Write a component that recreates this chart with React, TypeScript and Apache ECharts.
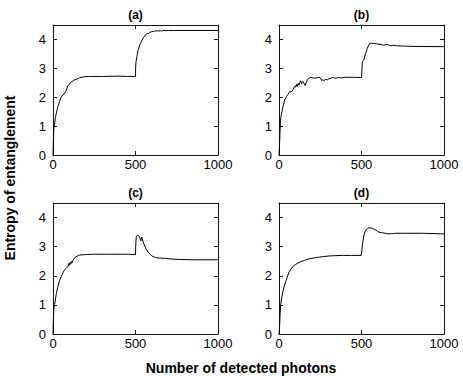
import React, { useEffect, useRef } from "react";
import * as echarts from "echarts";

const panelTitles = ["(a)", "(b)", "(c)", "(d)"];
const xTicks = { min: 0, max: 1000, interval: 500 };
const yTicks = { min: 0, max: 4.5, interval: 1 };
const xName = "Number of detected photons";
const yName = "Entropy of entanglement";

const curveA: number[][] = [
  [0, 0], [2, 0.45], [5, 0.9], [10, 1.1], [15, 1.3], [20, 1.45], [30, 1.68], [40, 1.86], [50, 2.0], [60, 2.08],
  [70, 2.13], [75, 2.2], [80, 2.22], [90, 2.4], [95, 2.43], [100, 2.47], [110, 2.52], [115, 2.56], [120, 2.55],
  [130, 2.6], [140, 2.62], [150, 2.64], [160, 2.67], [170, 2.69], [190, 2.71], [220, 2.72], [300, 2.72],
  [400, 2.73], [450, 2.72], [500, 2.72], [501, 3.05], [503, 3.22], [510, 3.45], [515, 3.62], [520, 3.7],
  [525, 3.8], [530, 3.86], [535, 3.92], [540, 3.98], [545, 4.03], [550, 4.08], [555, 4.1], [560, 4.16],
  [566, 4.18], [575, 4.22], [580, 4.2], [586, 4.25], [595, 4.26], [600, 4.28], [610, 4.27], [616, 4.29],
  [630, 4.3], [640, 4.29], [650, 4.31], [657, 4.28], [665, 4.31], [700, 4.31], [800, 4.31], [1000, 4.31],
];

const curveB: number[][] = [
  [0, 0], [3, 0.3], [6, 0.8], [9, 1.2], [12, 1.33], [18, 1.5], [25, 1.7], [34, 1.9], [45, 2.02], [55, 2.1],
  [65, 2.2], [72, 2.18], [81, 2.22], [90, 2.32], [95, 2.38], [101, 2.35], [106, 2.45], [111, 2.38], [116, 2.48],
  [121, 2.42], [126, 2.5], [131, 2.57], [137, 2.46], [141, 2.52], [145, 2.55], [150, 2.5], [155, 2.44],
  [158, 2.4], [164, 2.5], [172, 2.6], [182, 2.66], [192, 2.69], [205, 2.67], [222, 2.66], [232, 2.68],
  [243, 2.69], [252, 2.66], [258, 2.58], [263, 2.6], [273, 2.58], [283, 2.62], [293, 2.6], [303, 2.64],
  [313, 2.65], [323, 2.69], [333, 2.67], [345, 2.66], [360, 2.68], [380, 2.67], [400, 2.69], [450, 2.69],
  [500, 2.68], [502, 2.9], [505, 3.23], [512, 3.27], [518, 3.35], [521, 3.46], [528, 3.55], [535, 3.69],
  [542, 3.78], [549, 3.86], [560, 3.87], [573, 3.86], [590, 3.85], [603, 3.84], [618, 3.82], [633, 3.8],
  [645, 3.82], [657, 3.83], [667, 3.8], [677, 3.78], [687, 3.79], [697, 3.8], [712, 3.78], [727, 3.78],
  [750, 3.77], [768, 3.77], [800, 3.76], [1000, 3.75],
];

const curveC: number[][] = [
  [0, 0], [2, 0.45], [5, 0.85], [10, 1.01], [15, 1.2], [20, 1.38], [30, 1.64], [40, 1.84], [51, 1.99],
  [60, 2.1], [71, 2.21], [80, 2.26], [91, 2.33], [96, 2.42], [100, 2.36], [104, 2.46], [108, 2.4], [112, 2.5],
  [116, 2.45], [120, 2.52], [131, 2.62], [145, 2.67], [162, 2.71], [180, 2.72], [202, 2.73], [250, 2.74],
  [350, 2.74], [450, 2.74], [500, 2.73], [501, 3.0], [503, 3.2], [505, 3.36], [510, 3.38], [515, 3.4],
  [520, 3.37], [525, 3.32], [530, 3.25], [533, 3.2], [537, 3.33], [540, 3.3], [545, 3.19], [550, 3.1],
  [556, 3.02], [566, 2.9], [576, 2.81], [586, 2.75], [596, 2.7], [606, 2.66], [620, 2.63], [636, 2.61],
  [650, 2.61], [667, 2.6], [680, 2.6], [697, 2.59], [727, 2.57], [768, 2.56], [850, 2.55], [1000, 2.55],
];

const curveD: number[][] = [
  [0, 0], [2, 0.15], [4, 0.32], [7, 0.7], [10, 1.01], [15, 1.2], [24, 1.47], [32, 1.65], [41, 1.81],
  [50, 1.95], [61, 2.13], [71, 2.22], [81, 2.3], [91, 2.35], [101, 2.39], [115, 2.44], [131, 2.48],
  [155, 2.53], [182, 2.58], [210, 2.61], [242, 2.64], [270, 2.66], [303, 2.68], [340, 2.69], [384, 2.7],
  [440, 2.7], [498, 2.7], [500, 2.69], [502, 2.85], [505, 3.05], [509, 3.19], [513, 3.33], [517, 3.44],
  [523, 3.53], [529, 3.59], [537, 3.63], [545, 3.65], [555, 3.64], [566, 3.63], [576, 3.6], [586, 3.57],
  [596, 3.53], [606, 3.5], [620, 3.48], [636, 3.47], [650, 3.45], [667, 3.44], [690, 3.45], [707, 3.46],
  [768, 3.46], [869, 3.46], [990, 3.44], [1000, 3.44],
];

const curves = [curveA, curveB, curveC, curveD];

const FONT = "'Liberation Sans', Arial, Helvetica, sans-serif";

export default function App() {
  const ref = useRef<HTMLDivElement>(null);
  useEffect(() => {
    if (!ref.current) return;
    const chart = echarts.init(ref.current, null, { renderer: "svg" });
    const grids = [
      { left: 53, top: 25, width: 165, height: 130 },
      { left: 279, top: 25, width: 165, height: 130 },
      { left: 53, top: 203, width: 165, height: 131 },
      { left: 279, top: 203, width: 165, height: 131 },
    ];
    const line = { show: true, onZero: false, lineStyle: { color: "#111", width: 1 } };
    const tick = { show: true, inside: true, length: 4, lineStyle: { color: "#111", width: 1 } };
    const xAxis: any[] = [];
    const yAxis: any[] = [];
    grids.forEach((_, i) => {
      xAxis.push({
        type: "value", gridIndex: i, position: "bottom", ...xTicks,
        axisLine: line, axisTick: tick, splitLine: { show: false },
        axisLabel: {
          color: "#000", fontSize: 13, fontFamily: FONT, margin: 3,
          formatter: (v: number) => String(v),
        },
      });
      xAxis.push({
        type: "value", gridIndex: i, position: "top", ...xTicks,
        axisLine: line, axisTick: tick, splitLine: { show: false }, axisLabel: { show: false },
      });
      yAxis.push({
        type: "value", gridIndex: i, position: "left", ...yTicks,
        axisLine: line, axisTick: tick, splitLine: { show: false },
        axisLabel: {
          color: "#000", fontSize: 13, fontFamily: FONT, margin: 7,
          formatter: (v: number) => (v === 4.5 ? "" : String(v)),
        },
      });
      yAxis.push({
        type: "value", gridIndex: i, position: "right", ...yTicks,
        axisLine: line, axisTick: tick, splitLine: { show: false }, axisLabel: { show: false },
      });
    });
    const centers = grids.map((g) => g.left + g.width / 2);
    chart.setOption({
      animation: false,
      backgroundColor: "#fff",
      grid: grids,
      xAxis,
      yAxis,
      series: curves.map((c, i) => ({
        type: "line",
        xAxisIndex: i * 2,
        yAxisIndex: i * 2,
        data: c,
        showSymbol: false,
        symbol: "none",
        lineStyle: { color: "#000", width: 1 },
      })),
      graphic: [
        ...panelTitles.map((t, i) => ({
          type: "text",
          x: centers[i],
          y: i < 2 ? 15 : 193,
          style: { text: t, font: `bold 12px ${FONT}`, fill: "#000", align: "center", verticalAlign: "middle" },
        })),
        {
          type: "text", x: 241, y: 368,
          style: { text: xName, font: `bold 14px ${FONT}`, fill: "#000", align: "center", verticalAlign: "middle" },
        },
        {
          type: "text", x: 10, y: 178, rotation: Math.PI / 2,
          style: { text: yName, font: `bold 14px ${FONT}`, fill: "#000", align: "center", verticalAlign: "middle" },
        },
      ],
    });
    return () => chart.dispose();
  }, []);
  return (
    <div
      ref={ref}
      style={{ position: "fixed", left: 0, top: 0, width: 463, height: 376, background: "#fff" }}
    />
  );
}
